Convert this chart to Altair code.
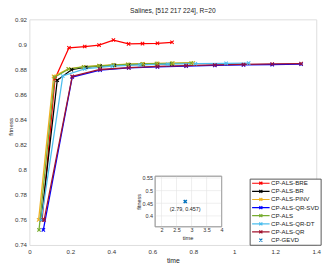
import altair as alt
import pandas as pd

methods = ["CP-ALS-BRE", "CP-ALS-BR", "CP-ALS-PINV", "CP-ALS-QR-SVD",
           "CP-ALS", "CP-ALS-QR-DT", "CP-ALS-QR", "CP-GEVD"]
colors = ["#FF0000", "#000000", "#EDB120", "#0000FF",
          "#77AC30", "#4DBEEE", "#A2142F", "#0072BD"]

bre_t = [0.062, 0.125, 0.193, 0.27, 0.34, 0.41, 0.484, 0.552, 0.625, 0.696]
bre_f = [0.7600, 0.8727, 0.8973, 0.8983, 0.8994, 0.9035, 0.9004, 0.9006, 0.9009, 0.9017]
br_t = [0.058, 0.136, 0.205, 0.275, 0.345, 0.415, 0.485, 0.555, 0.625, 0.695]
br_f = [0.7600, 0.8714, 0.8798, 0.8818, 0.8827, 0.8834, 0.8838, 0.8841, 0.8843, 0.8845]
pinv_t = [0.045, 0.118, 0.19, 0.265, 0.34, 0.41, 0.48, 0.555, 0.625, 0.70, 0.80]
pinv_f = [0.7600, 0.8745, 0.8805, 0.8822, 0.8831, 0.8837, 0.8842, 0.8846, 0.8849, 0.8851, 0.8854]
svd_t = [0.068, 0.209, 0.345, 0.485, 0.625, 0.765, 0.905, 1.045, 1.185, 1.326]
svd_f = [0.7520, 0.8740, 0.8795, 0.8812, 0.8820, 0.8827, 0.8832, 0.8836, 0.8839, 0.8842]
als_t = [0.047, 0.123, 0.19, 0.265, 0.34, 0.41, 0.48, 0.55, 0.62, 0.695, 0.79]
als_f = [0.7520, 0.8738, 0.8803, 0.8820, 0.8829, 0.8835, 0.8840, 0.8844, 0.8847, 0.8849, 0.8851]
dt_t = [0.058, 0.163, 0.27, 0.405, 0.54, 0.675, 0.81, 0.96, 1.07]
dt_f = [0.7600, 0.8748, 0.8804, 0.8826, 0.8836, 0.8842, 0.8846, 0.8849, 0.8851]
qr_t = [0.072, 0.209, 0.345, 0.485, 0.625, 0.765, 0.905, 1.045, 1.185, 1.326]
qr_f = [0.7600, 0.8745, 0.8800, 0.8815, 0.8825, 0.8831, 0.8836, 0.8840, 0.8844, 0.8847]

gevd_t = [2.79]
gevd_f = [0.457]

x_ticks = [0, 0.2, 0.4, 0.6, 0.8, 1.0, 1.2, 1.4]
y_ticks = [0.74, 0.76, 0.78, 0.80, 0.82, 0.84, 0.86, 0.88, 0.90, 0.92]
ix_ticks = [2, 2.5, 3, 3.5, 4]
iy_ticks = [0.4, 0.45, 0.5, 0.55]
ix_dom = [1.79, 4.0]
iy_dom = [0.357, 0.557]

series = [(bre_t, bre_f), (br_t, br_f), (pinv_t, pinv_f), (svd_t, svd_f),
          (als_t, als_f), (dt_t, dt_f), (qr_t, qr_f)]
rows = []
for m, (ts, fs) in zip(methods, series):
    for i, (t, f) in enumerate(zip(ts, fs)):
        rows.append({"method": m, "time": t, "fitness": f, "idx": i})
df = pd.DataFrame(rows)

FONT = "Liberation Sans"
XPATH = "M-1,-1L1,1M-1,1L1,-1"
LEGPATH = "M-1,0L1,0M-0.17,-0.17L0.17,0.17M-0.17,0.17L0.17,-0.17"
LEGX = "M-0.17,-0.17L0.17,0.17M-0.17,0.17L0.17,-0.17"

xs = alt.Scale(domain=[0, 1.4], nice=False, zero=False)
ys = alt.Scale(domain=[0.74, 0.92], nice=False, zero=False)
cs = alt.Scale(domain=methods, range=colors)
shs = alt.Scale(domain=methods, range=[LEGPATH] * 7 + [LEGX])

xaxis = alt.Axis(values=x_ticks, format="~g", grid=False, ticks=False, domain=False,
                 labelFontSize=6.3, labelFont=FONT, labelColor="#333", labelPadding=4,
                 labelFlush=False, labelOverlap=False,
                 title="time", titleFont=FONT, titleFontSize=7, titleFontWeight="normal",
                 titleColor="#222", titleY=16, titleBaseline="middle")
yaxis = alt.Axis(values=y_ticks, format="~g", grid=False, ticks=False, domain=False,
                 labelFontSize=6.3, labelFont=FONT, labelColor="#333", labelPadding=3,
                 labelOverlap=False,
                 title="fitness", titleFont=FONT, titleFontSize=6.3, titleFontWeight="normal",
                 titleColor="#222", titleX=-19.6, titleY=110, titleAngle=270,
                 titleBaseline="middle")

leg = alt.Legend(orient="none", legendX=226.5, legendY=163.8, title=None,
                 direction="vertical", columns=1,
                 strokeColor="#555", fillColor="white", padding=1.5,
                 labelFontSize=6.3, labelFont=FONT, labelColor="#222", labelOffset=0.5,
                 symbolSize=324, symbolStrokeWidth=1.2, symbolOpacity=1,
                 clipHeight=6.4, rowPadding=1.35)

X = alt.X("time:Q", scale=xs, axis=xaxis)
Y = alt.Y("fitness:Q", scale=ys, axis=yaxis)

lines = alt.Chart(df).mark_line(strokeWidth=1.3).encode(
    x=X, y=Y, color=alt.Color("method:N", scale=cs, legend=leg), order="idx:Q")
points = alt.Chart(df).mark_point(filled=False, strokeWidth=1.1, size=12, shape=XPATH,
                                  opacity=1).encode(
    x=X, y=Y, color=alt.Color("method:N", scale=cs, legend=leg))
legend_layer = alt.Chart(df).mark_point(filled=False, opacity=1).encode(
    x=X, y=Y,
    color=alt.Color("method:N", scale=cs, legend=leg),
    shape=alt.Shape("method:N", scale=shs, legend=leg)).transform_filter("false")

main = alt.layer(legend_layer, lines, points)

# inset
ixs = alt.Scale(domain=ix_dom, range=[129.3, 197.7], nice=False, zero=False)
iys = alt.Scale(domain=iy_dom, range=[213.3, 161.3], nice=False, zero=False)
ixaxis = alt.Axis(values=ix_ticks, orient="bottom", offset=-18.7, format="~g", grid=False,
                  ticks=False, domain=False, labelFontSize=5.6, labelFont=FONT,
                  labelColor="#333", labelPadding=1.2, labelFlush=False, labelOverlap=False,
                  title="time", titleFont=FONT, titleFontSize=5.8, titleFontWeight="normal",
                  titleColor="#222", titleX=162.7, titleY=11.4, titleBaseline="middle")
iyaxis = alt.Axis(values=iy_ticks, orient="left", offset=-129.3, format="~g", grid=False,
                  ticks=False, domain=False, labelFontSize=5.6, labelFont=FONT,
                  labelColor="#333", labelPadding=2.6, labelOverlap=False,
                  title="fitness", titleFont=FONT, titleFontSize=5.6, titleFontWeight="normal",
                  titleColor="#222", titleX=-16.6, titleY=187.3, titleAngle=270,
                  titleBaseline="middle")

frame_df = pd.DataFrame({"x0": [ix_dom[0]], "x1": [ix_dom[1]], "y0": [iy_dom[0]], "y1": [iy_dom[1]]})
gx_df = pd.DataFrame({"v": ix_ticks, "lo": [iy_dom[0]] * len(ix_ticks), "hi": [iy_dom[1]] * len(ix_ticks)})
gy_df = pd.DataFrame({"v": iy_ticks, "lo": [ix_dom[0]] * len(iy_ticks), "hi": [ix_dom[1]] * len(iy_ticks)})
pt_df = pd.DataFrame({"time": gevd_t, "fitness": gevd_f})
pt_df["label"] = ["(%g, %g)" % (t, f) for t, f in zip(gevd_t, gevd_f)]

frame = alt.Chart(frame_df).mark_rect(fill="white", stroke="#9a9a9a", strokeWidth=0.8).encode(
    x=alt.X("x0:Q", scale=ixs, axis=ixaxis), x2="x1:Q",
    y=alt.Y("y0:Q", scale=iys, axis=iyaxis), y2="y1:Q")
gridx = alt.Chart(gx_df).mark_rule(color="#e3e3e3", strokeWidth=0.6).encode(
    x=alt.X("v:Q", scale=ixs, axis=ixaxis),
    y=alt.Y("lo:Q", scale=iys, axis=iyaxis), y2="hi:Q")
gridy = alt.Chart(gy_df).mark_rule(color="#e3e3e3", strokeWidth=0.6).encode(
    y=alt.Y("v:Q", scale=iys, axis=iyaxis),
    x=alt.X("lo:Q", scale=ixs, axis=ixaxis), x2="hi:Q")
frame2 = alt.Chart(frame_df).mark_rect(fill=None, stroke="#9a9a9a", strokeWidth=0.8).encode(
    x=alt.X("x0:Q", scale=ixs, axis=ixaxis), x2="x1:Q",
    y=alt.Y("y0:Q", scale=iys, axis=iyaxis), y2="y1:Q")
ipt = alt.Chart(pt_df).mark_point(filled=False, strokeWidth=1.6, size=10, shape=XPATH,
                                 color="#0072BD", opacity=1).encode(
    x=alt.X("time:Q", scale=ixs, axis=ixaxis),
    y=alt.Y("fitness:Q", scale=iys, axis=iyaxis))
itxt = alt.Chart(pt_df).mark_text(fontSize=5.6, font=FONT, color="#222", dy=7.5,
                                 align="center", baseline="middle").encode(
    x=alt.X("time:Q", scale=ixs, axis=ixaxis),
    y=alt.Y("fitness:Q", scale=iys, axis=iyaxis),
    text="label:N")

inset = alt.layer(frame, gridx, gridy, frame2, ipt, itxt)

chart = alt.layer(main, inset).resolve_scale(x="independent", y="independent").properties(
    width=295, height=232,
    title=alt.TitleParams("Salines, [512 217 224], R=20", fontSize=6.8, fontWeight="normal",
                          font=FONT, color="#222", offset=2, anchor="middle"),
    padding={"left": 22, "top": 8, "right": 10, "bottom": 20},
    autosize="none",
).configure_view(stroke="#a0a0a0", strokeWidth=1).configure(background="white")

chart.save("out.html", embed_options={"renderer": "svg", "actions": False})
